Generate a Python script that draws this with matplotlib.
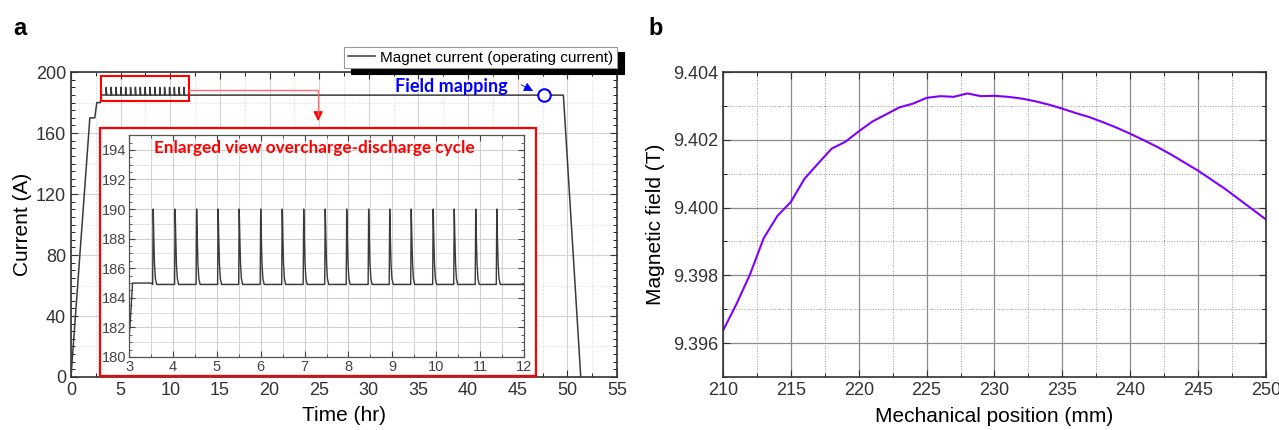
import numpy as np
import matplotlib
matplotlib.use("Agg")
import matplotlib.pyplot as plt
from matplotlib.ticker import MultipleLocator
from matplotlib.patches import Rectangle

plt.rcParams['font.family'] = ['Liberation Sans', 'DejaVu Sans']

# ---- panel a: magnet current vs time ----
# ramp up / ramp down (hr, A)
ramp_t = [0.0, 1.9, 2.4, 2.6, 2.95, 3.02, 3.08, 3.5]
ramp_I = [0.0, 170.0, 170.0, 180.0, 180.0, 182.0, 185.0, 185.0]
end_t = [11.6, 49.6, 51.35]
end_I = [184.9, 184.9, 0.0]

# times of overcharge peaks (hr)
spike_t = [3.55, 4.05, 4.54, 5.03, 5.51, 6.00, 6.49, 6.98, 7.47,
           7.96, 8.46, 8.94, 9.43, 9.93, 10.41, 10.90, 11.38]
# shape of one peak, offsets from the peak time (hr) and current (A)
spike_dt = [-0.012, 0.0, 0.015, 0.03, 0.05, 0.08]
spike_I = [184.9, 190.0, 188.0, 186.3, 185.3, 184.9]

field_map_t = 47.6
field_map_I = 185.0

# ---- panel b: field along axis ----
pos = [210, 211, 212, 213, 214, 215, 216, 217, 218, 219, 220, 221, 222, 223,
       224, 225, 226, 227, 228, 229, 230, 231, 232, 233, 234, 235, 236, 237,
       238, 239, 240, 241, 242, 243, 244, 245, 246, 247, 248, 249, 250]
field = [9.39637, 9.39716, 9.39804, 9.39910, 9.39975, 9.40017, 9.40085,
         9.40130, 9.40174, 9.40194, 9.40225, 9.40254, 9.40275, 9.40296,
         9.40307, 9.40324, 9.40329, 9.40327, 9.40337, 9.40329, 9.40330,
         9.40327, 9.40322, 9.40314, 9.40304, 9.40292, 9.40279, 9.40267,
         9.40252, 9.40236, 9.40218, 9.40199, 9.40179, 9.40157, 9.40133,
         9.40109, 9.40082, 9.40055, 9.40025, 9.39995, 9.39965]

# build the full current trace
t = list(ramp_t)
I = list(ramp_I)
for s in spike_t:
    for dt, v in zip(spike_dt, spike_I):
        t.append(s + dt)
        I.append(v)
t += end_t
I += end_I

fig = plt.figure(figsize=(12.79, 4.30), dpi=100)
line_col = '#3a3a3a'

def style_axes(ax):
    ax.tick_params(which='both', direction='in', top=True, right=True)
    ax.tick_params(which='major', length=5, labelsize=13, colors='#333333')
    ax.tick_params(which='minor', length=3)
    for sp in ax.spines.values():
        sp.set_color('#333333')
        sp.set_linewidth(1.2)

# panel a
ax1 = fig.add_axes([0.0555, 0.1233, 0.4269, 0.709])
ax1.plot(t, I, color=line_col, lw=1.1, label='Magnet current (operating current)', zorder=3)
ax1.set_xlim(0, 55)
ax1.set_ylim(0, 200)
ax1.xaxis.set_major_locator(MultipleLocator(5))
ax1.xaxis.set_minor_locator(MultipleLocator(2.5))
ax1.yaxis.set_major_locator(MultipleLocator(40))
ax1.yaxis.set_minor_locator(MultipleLocator(5))
style_axes(ax1)
ax1.grid(which='major', color='#d4d4d4', lw=0.8)
for x in np.arange(2.5, 55, 5):
    ax1.axvline(x, color='#d8d8d8', lw=0.7, ls=':', zorder=0)
for y in np.arange(20, 200, 40):
    ax1.axhline(y, color='#d8d8d8', lw=0.7, ls=':', zorder=0)
ax1.set_xlabel('Time (hr)', fontsize=15, labelpad=5)
ax1.set_ylabel('Current (A)', fontsize=15, labelpad=3)
leg = ax1.legend(loc='lower right', bbox_to_anchor=(1.0, 1.012), fontsize=11,
                 frameon=True, fancybox=False, borderpad=0.25, handlelength=1.8,
                 handletextpad=0.3, borderaxespad=0,
                 shadow={'color': 'black', 'alpha': 1, 'ox': 5, 'oy': -4})
leg.get_frame().set_edgecolor('#999999')
leg.get_frame().set_linewidth(0.8)

# field mapping marker
ax1.plot(field_map_t, field_map_I, 'o', ms=9, mfc='white', mec='blue', mew=1.5, zorder=5)
ax1.annotate('', xy=(field_map_t - 0.8, field_map_I + 1.8), xytext=(45.1, 192.5),
             arrowprops=dict(arrowstyle='-|>', color='blue', lw=0.6, mutation_scale=14))
ax1.text(38.3, 190.5, 'Field mapping', color='blue', fontsize=13, fontweight='bold',
         family=['Lato', 'DejaVu Sans'], ha='center', va='center')

# small zoom box and connector
ax1.add_patch(Rectangle((3.0, 181), 8.9, 16.4, fill=False, ec='red', lw=1.5, zorder=4))
ax1.plot([11.9, 24.9, 24.9], [188.2, 188.2, 172], color='#ff6a6a', lw=1.0, zorder=4)
ax1.annotate('', xy=(24.9, 166), xytext=(24.9, 172.5),
             arrowprops=dict(arrowstyle='-|>', color='red', lw=1.0, mutation_scale=14))

# inset frame
fig.patches.append(Rectangle((0.0782, 0.1256), 0.341, 0.577, transform=fig.transFigure,
                             fc='white', ec='red', lw=1.6, zorder=5))

axin = fig.add_axes([0.1009, 0.1698, 0.3088, 0.516])
axin.set_zorder(6)
axin.plot(t, I, color=line_col, lw=1.0)
axin.set_xlim(3, 12)
axin.set_ylim(180, 195)
axin.xaxis.set_major_locator(MultipleLocator(1))
axin.xaxis.set_minor_locator(MultipleLocator(0.5))
axin.yaxis.set_major_locator(MultipleLocator(2))
axin.yaxis.set_minor_locator(MultipleLocator(0.5))
axin.tick_params(which='both', direction='in', top=True, right=True, colors='#444444')
axin.tick_params(which='major', length=4, labelsize=10.5, pad=2)
axin.tick_params(which='minor', length=2)
for sp in axin.spines.values():
    sp.set_color('#555555')
    sp.set_linewidth(0.9)
axin.grid(which='major', color='#cfcfcf', lw=0.8)
for x in np.arange(3.5, 12, 1):
    axin.axvline(x, color='#d6d6d6', lw=0.8, zorder=0)
for y in np.arange(181, 195, 2):
    axin.axhline(y, color='#e2e2e2', lw=0.7, zorder=0)
axin.text(0.47, 0.94, 'Enlarged view overcharge-discharge cycle', transform=axin.transAxes,
          color='red', fontsize=12.3, fontweight='bold', family=['Lato', 'DejaVu Sans'],
          ha='center', va='center')

# panel b
ax2 = fig.add_axes([0.5653, 0.1233, 0.4245, 0.709])
ax2.plot(pos, field, color='#8000ff', lw=1.5)
ax2.set_xlim(210, 250)
ax2.set_ylim(9.395, 9.404)
ax2.xaxis.set_major_locator(MultipleLocator(5))
ax2.xaxis.set_minor_locator(MultipleLocator(2.5))
ax2.yaxis.set_major_locator(MultipleLocator(0.002))
ax2.yaxis.set_minor_locator(MultipleLocator(0.001))
ax2.yaxis.set_major_formatter(matplotlib.ticker.FormatStrFormatter('%.3f'))
style_axes(ax2)
ax2.grid(which='major', color='#8c8c8c', lw=0.9)
ax2.grid(which='minor', color='#9a9a9a', lw=0.7, ls=':')
ax2.set_xlabel('Mechanical position (mm)', fontsize=15, labelpad=6)
ax2.set_ylabel('Magnetic field (T)', fontsize=15, labelpad=6)

fig.text(0.010, 0.918, 'a', fontsize=17, fontweight='bold')
fig.text(0.507, 0.918, 'b', fontsize=17, fontweight='bold')

fig.savefig('out.png', dpi=100)
